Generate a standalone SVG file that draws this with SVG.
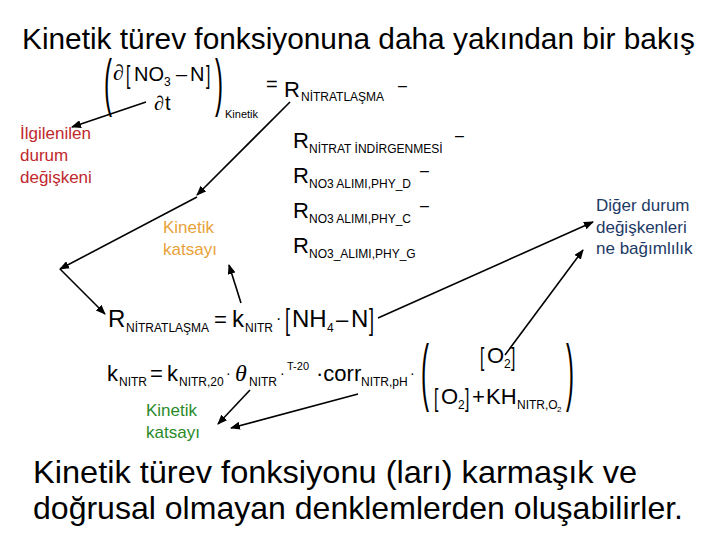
<svg xmlns="http://www.w3.org/2000/svg" width="720" height="540" viewBox="0 0 720 540">
<defs>
<marker id="ah" markerWidth="10" markerHeight="8" refX="9" refY="4" orient="auto" markerUnits="userSpaceOnUse">
<path d="M0,0 L10,4 L0,8 z" fill="#000"/>
</marker>
<style>
text{font-family:"Liberation Sans",Arial,sans-serif;fill:#000}
.m{font-size:22px}
.s{font-size:12px}
.ss{font-size:8px}
.sym{font-family:"Liberation Serif","DejaVu Serif",serif}
.pa{font-size:24px;font-weight:300}
.red{fill:#c0282d;font-size:17px}
.org{fill:#e8a23a;font-size:17px}
.blu{fill:#1d3a66;font-size:17px}
.grn{fill:#2a8a2a;font-size:17px}
.cn line{stroke:#000;stroke-width:1.6;marker-end:url(#ah)}
</style>
</defs>
<rect width="720" height="540" fill="#fff"/>

<g id="title"><text x="22" y="49" font-size="30" textLength="673" lengthAdjust="spacingAndGlyphs">Kinetik türev fonksiyonuna daha yakından bir bakış</text></g>

<g id="eq-top">
<text class="pa" transform="translate(104,104) scale(1,2.6)">(</text>
<text class="sym" x="113" y="80" font-size="22" font-style="italic">∂</text>
<text transform="translate(126,84) scale(0.6,1)" font-size="26">[</text>
<text x="134" y="81" font-size="20">NO</text>
<text class="s" x="164" y="86">3</text>
<text x="176" y="81" font-size="20">–</text>
<text x="190" y="81" font-size="20">N</text>
<text transform="translate(206,84) scale(0.6,1)" font-size="26">]</text>
<text class="sym" x="154" y="110" font-size="20" font-style="italic">∂</text>
<text x="165" y="110" font-size="20">t</text>
<text class="pa" transform="translate(215,104) scale(1,2.6)">)</text>
<text x="225" y="118" font-size="11">Kinetik</text>
<text x="266" y="91" font-size="20">=</text>
<text x="284" y="97" font-size="22">R</text>
<text class="s" x="301" y="101">NİTRATLAŞMA</text>
<text x="398" y="91" font-size="16">–</text>
</g>

<g id="rates">
<text class="m" x="293" y="148">R</text>
<text class="s" x="309" y="153">NİTRAT İNDİRGENMESİ</text>
<text x="455" y="141" font-size="16">–</text>
<text class="m" x="293" y="183">R</text>
<text class="s" x="309" y="188">NO3 ALIMI,PHY_D</text>
<text x="420" y="176" font-size="16">–</text>
<text class="m" x="293" y="218">R</text>
<text class="s" x="309" y="223">NO3 ALIMI,PHY_C</text>
<text x="420" y="211" font-size="16">–</text>
<text class="m" x="293" y="253">R</text>
<text class="s" x="309" y="258">NO3_ALIMI,PHY_G</text>
</g>

<g id="label-state">
<text class="red" x="20" y="139">İlgilenilen</text>
<text class="red" x="20" y="161">durum</text>
<text class="red" x="20" y="183">değişkeni</text>
</g>

<g id="label-kin1">
<text class="org" x="163" y="233">Kinetik</text>
<text class="org" x="163" y="255">katsayı</text>
</g>

<g id="label-other">
<text class="blu" x="596" y="211">Diğer durum</text>
<text class="blu" x="596" y="233">değişkenleri</text>
<text class="blu" x="596" y="254">ne bağımlılık</text>
</g>

<g id="eq-mid">
<text x="108" y="327" font-size="24">R</text>
<text class="s" x="126" y="332">NİTRATLAŞMA</text>
<text x="214" y="327" font-size="22">=</text>
<text x="232" y="327" font-size="24">k</text>
<text class="s" x="245" y="332">NITR</text>
<text x="276" y="324" font-size="16">·</text>
<text transform="translate(285,330) scale(0.6,1)" font-size="30">[</text>
<text x="292" y="327" font-size="24">NH</text>
<text class="s" x="327" y="332">4</text>
<text x="336" y="327" font-size="22">–</text>
<text x="351" y="327" font-size="24">N</text>
<text transform="translate(369,330) scale(0.6,1)" font-size="30">]</text>
</g>

<g id="eq-bot">
<text x="107" y="381" font-size="22">k</text>
<text class="s" x="119" y="386">NITR</text>
<text x="150" y="381" font-size="22">=</text>
<text x="167" y="381" font-size="22">k</text>
<text class="s" x="179" y="386">NITR,20</text>
<text x="226" y="378" font-size="14">·</text>
<text class="sym" x="235" y="381" font-size="24" font-style="italic">θ</text>
<text class="s" x="249" y="386">NITR</text>
<text x="280" y="378" font-size="14">·</text>
<text x="287" y="370" font-size="11">T-20</text>
<text x="316" y="381" font-size="22">·corr</text>
<text class="s" x="361" y="386">NITR,pH</text>
<text x="410" y="378" font-size="14">·</text>
<text class="pa" transform="translate(421,397) scale(1,3.05)">(</text>
<text transform="translate(480,366) scale(0.6,1)" font-size="26">[</text>
<text x="487" y="363" font-size="22">O</text>
<text class="s" x="504" y="368">2</text>
<text transform="translate(511,366) scale(0.6,1)" font-size="26">]</text>
<text transform="translate(434,407) scale(0.6,1)" font-size="26">[</text>
<text x="441" y="404" font-size="22">O</text>
<text class="s" x="458" y="409">2</text>
<text transform="translate(465,407) scale(0.6,1)" font-size="26">]</text>
<text x="472" y="404" font-size="22">+</text>
<text x="486" y="404" font-size="22">KH</text>
<text class="s" x="517" y="409">NITR,O</text>
<text class="ss" x="557" y="412">2</text>
<text class="pa" transform="translate(566,397) scale(1,3.05)">)</text>
</g>

<g id="label-kin2">
<text class="grn" x="146" y="416">Kinetik</text>
<text class="grn" x="146" y="438">katsayı</text>
</g>

<g id="bottom-text">
<text x="33" y="483" font-size="32" textLength="604" lengthAdjust="spacingAndGlyphs">Kinetik türev fonksiyonu (ları) karmaşık ve</text>
<text x="33" y="519" font-size="32" textLength="650" lengthAdjust="spacingAndGlyphs">doğrusal olmayan denklemlerden oluşabilirler.</text>
</g>

<g id="connectors" class="cn">
<line x1="146" y1="102" x2="72" y2="127"/>
<line x1="290" y1="102" x2="197" y2="195"/>
<line x1="197" y1="197" x2="60" y2="269"/>
<line x1="60" y1="269" x2="105" y2="314"/>
<line x1="241" y1="303" x2="229" y2="265"/>
<line x1="378" y1="318" x2="593" y2="222"/>
<line x1="505" y1="355" x2="583" y2="250"/>
<line x1="250" y1="390" x2="218" y2="424"/>
<line x1="358" y1="394" x2="231" y2="428"/>
</g>
</svg>
